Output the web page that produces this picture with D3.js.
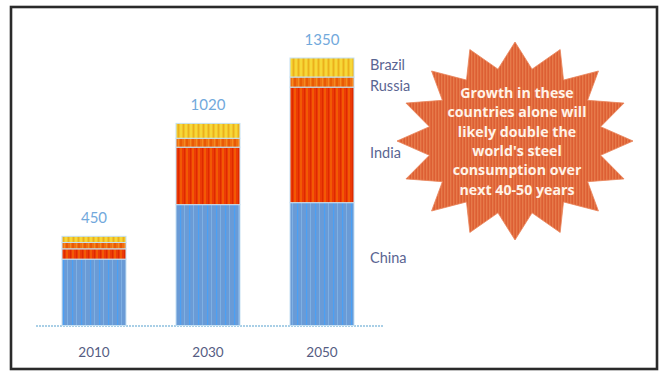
<!DOCTYPE html>
<html><head><meta charset="utf-8">
<script src="https://cdn.jsdelivr.net/npm/d3@7"></script>
<style>html,body{margin:0;padding:0;background:#fff}svg{display:block}</style>
</head><body>
<svg id="c" width="664" height="373"></svg>
<script>
const years = ["2010", "2030", "2050"];
const countries = ["China", "India", "Russia", "Brazil"];
const china  = [335, 610, 620];
const india  = [52, 290, 583];
const russia = [32, 45, 51];
const brazil = [31, 75, 96];
const totals = [450, 1020, 1350];
const calloutLines = ["Growth in these", "countries alone will", "likely double the", "world's steel", "consumption over", "next 40-50 years"];

const svg = d3.select("#c");

// frame
svg.append("rect").attr("x", 11).attr("y", 7).attr("width", 646).attr("height", 362)
  .attr("fill", "#fff").attr("stroke", "#2a2a2a").attr("stroke-width", 2.6);

// patterns
const defs = svg.append("defs");
function stripePattern(id, base, stripes, w) {
  const p = defs.append("pattern").attr("id", id).attr("patternUnits", "userSpaceOnUse")
    .attr("width", w).attr("height", 10);
  p.append("rect").attr("width", w).attr("height", 10).attr("fill", base);
  stripes.forEach(s => p.append("rect").attr("x", s[0]).attr("width", s[1]).attr("height", 10).attr("fill", s[2]));
}
stripePattern("pChina", "#6a9bd6", [[0, 1.2, "#4aa0f5"], [4, 1, "#7fb0e4"]], 9);
stripePattern("pIndia", "#ec3a06", [[0, 2, "#f25a04"], [4, 1, "#dd2a00"]], 6);
stripePattern("pRussia", "#ef7012", [[0, 2, "#e85a06"], [4, 1, "#f58a20"]], 6);
stripePattern("pBrazil", "#f2c42a", [[0, 2, "#f6d838"], [3, 1, "#ebb01c"]], 5);
stripePattern("pStar", "#e2693c", [[0, 1, "#e67a4a"], [2, 1, "#dc5f34"]], 3);
const fills = {China: "url(#pChina)", India: "url(#pIndia)", Russia: "url(#pRussia)", Brazil: "url(#pBrazil)"};

const x = d3.scaleBand().domain(years).range([37, 379]).paddingInner(0.4386).paddingOuter(0.2193);
const y = d3.scaleLinear().domain([0, 1350]).range([325.5, 58]);

const rows = years.map((yr, i) => ({year: yr, China: china[i], India: india[i], Russia: russia[i], Brazil: brazil[i]}));
const stacked = d3.stack().keys(countries)(rows);

// axis baseline (dotted light blue)
svg.append("line").attr("x1", x.range()[0] - 1).attr("x2", x.range()[1] + 4)
  .attr("y1", y(0) + 0.5).attr("y2", y(0) + 0.5)
  .attr("stroke", "#a9cfe6").attr("stroke-width", 2).attr("stroke-dasharray", "2,1");

// bars
const g = svg.append("g");
stacked.forEach(layer => {
  g.selectAll(null).data(layer).enter().append("rect")
    .attr("x", d => x(d.data.year))
    .attr("width", x.bandwidth())
    .attr("y", d => y(d[1]))
    .attr("height", d => y(d[0]) - y(d[1]))
    .attr("fill", fills[layer.key])
    .attr("stroke", "#c4e0f3").attr("stroke-width", 1);
});

// value labels
svg.selectAll(".tot").data(totals).enter().append("text")
  .attr("x", (d, i) => x(years[i]) + x.bandwidth() / 2)
  .attr("y", d => y(d) - 13)
  .attr("text-anchor", "middle")
  .attr("font-family", "Lato, 'Open Sans', sans-serif").attr("font-size", 15)
  .attr("fill", "#72a9dc").text(d => d);

// year labels
svg.selectAll(".yr").data(years).enter().append("text")
  .attr("x", d => x(d) + x.bandwidth() / 2).attr("y", 357)
  .attr("text-anchor", "middle")
  .attr("font-family", "Lato, 'Open Sans', sans-serif").attr("font-size", 13.5)
  .attr("fill", "#555c82").text(d => d);

// series labels next to last bar
const last = years.length - 1;
const nudge = {China: -6, India: 8, Russia: 4, Brazil: -3};
stacked.forEach(layer => {
  const d = layer[last];
  svg.append("text")
    .attr("x", 370)
    .attr("y", (y(d[0]) + y(d[1])) / 2 + 5 + nudge[layer.key])
    .attr("font-family", "Lato, 'Open Sans', sans-serif").attr("font-size", 14.5)
    .attr("fill", "#5a6592").text(layer.key);
});

// starburst callout
const cx = 515, cy = 141, rx = 118, ry = 99, nPts = 16, inner = 0.74;
const pts = [];
for (let k = 0; k < nPts * 2; k++) {
  const a = -Math.PI / 2 + k * Math.PI / nPts;
  const r = k % 2 === 0 ? 1 : inner;
  pts.push([cx + Math.cos(a) * rx * r, cy + Math.sin(a) * ry * r]);
}
svg.append("path").attr("d", d3.line()(pts) + "Z")
  .attr("fill", "url(#pStar)").attr("stroke", "#e8845a").attr("stroke-width", 0.8);

svg.selectAll(".cl").data(calloutLines).enter().append("text")
  .attr("x", cx + 2).attr("y", (d, i) => 98 + i * 19.3)
  .attr("text-anchor", "middle")
  .attr("font-family", "'Open Sans', Lato, sans-serif").attr("font-weight", "bold").attr("font-size", 14.2)
  .attr("fill", "#fff3e8").text(d => d);
</script>
</body></html>
